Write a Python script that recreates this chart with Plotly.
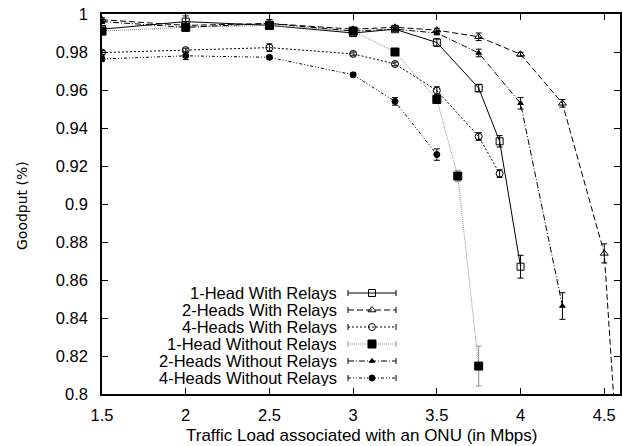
import plotly.graph_objects as go

# ---------------- data ----------------
names = [
    "1-Head With Relays",
    "2-Heads With Relays",
    "4-Heads With Relays",
    "1-Head Without Relays",
    "2-Heads Without Relays",
    "4-Heads Without Relays",
]

x_1h_wr = [1.5, 2, 2.5, 3, 3.25, 3.5, 3.75, 3.875, 4.0]
y_1h_wr = [0.992, 0.996, 0.994, 0.990, 0.992, 0.985, 0.961, 0.933, 0.867]
e_1h_wr = [0.002, 0.003, 0.002, 0.001, 0.001, 0.002, 0.002, 0.003, 0.006]

x_2h_wr = [1.5, 2, 2.5, 3, 3.25, 3.5, 3.75, 4.0, 4.25, 4.5, 4.625]
y_2h_wr = [0.997, 0.994, 0.995, 0.992, 0.993, 0.9915, 0.988, 0.9788, 0.953, 0.874, 0.706]
e_2h_wr = [0.001, 0.002, 0.002, 0.001, 0.001, 0.001, 0.002, 0.001, 0.002, 0.005, 0.005]

x_4h_wr = [1.5, 2, 2.5, 3, 3.25, 3.5, 3.75, 3.875]
y_4h_wr = [0.9797, 0.981, 0.9823, 0.979, 0.9737, 0.9597, 0.9355, 0.916]
e_4h_wr = [0.001, 0.001, 0.002, 0.001, 0.001, 0.002, 0.002, 0.002]

x_1h_nr = [1.5, 2, 2.5, 3, 3.25, 3.5, 3.625, 3.75]
y_1h_nr = [0.991, 0.993, 0.994, 0.991, 0.980, 0.955, 0.9147, 0.8147]
e_1h_nr = [0.002, 0.002, 0.002, 0.001, 0.001, 0.002, 0.003, 0.0105]

x_2h_nr = [1.5, 2, 2.5, 3, 3.25, 3.5, 3.75, 4.0, 4.25]
y_2h_nr = [0.996, 0.993, 0.995, 0.991, 0.992, 0.990, 0.9795, 0.953, 0.8463]
e_2h_nr = [0.001, 0.002, 0.002, 0.001, 0.001, 0.001, 0.002, 0.003, 0.007]

x_4h_nr = [1.5, 2, 2.5, 3, 3.25, 3.5]
y_4h_nr = [0.9763, 0.978, 0.9772, 0.968, 0.954, 0.926]
e_4h_nr = [0.001, 0.002, 0.001, 0.001, 0.002, 0.003]

x_ticks = [1.5, 2, 2.5, 3, 3.5, 4, 4.5]
y_ticks = [0.8, 0.82, 0.84, 0.86, 0.88, 0.9, 0.92, 0.94, 0.96, 0.98, 1.0]

x_title = "Traffic Load associated with an ONU (in Mbps)"
y_title = "Goodput (%)"

# ---------------- styles ----------------
styles = [
    dict(dash="solid", color="black", symbol="square-open", msize=7, mcolor="black"),
    dict(dash="6px,3px", color="black", symbol="triangle-up-open", msize=7, mcolor="black"),
    dict(dash="2px,2px", color="black", symbol="circle-open", msize=7, mcolor="black"),
    dict(dash="1px,1px", color="#8c8c8c", symbol="square", msize=8, mcolor="black"),
    dict(dash="6px,2px,1px,2px", color="black", symbol="triangle-up", msize=5, mcolor="black"),
    dict(dash="3px,2px,1px,2px,1px,2px", color="black", symbol="circle", msize=6, mcolor="black"),
]

series = [
    (x_1h_wr, y_1h_wr, e_1h_wr),
    (x_2h_wr, y_2h_wr, e_2h_wr),
    (x_4h_wr, y_4h_wr, e_4h_wr),
    (x_1h_nr, y_1h_nr, e_1h_nr),
    (x_2h_nr, y_2h_nr, e_2h_nr),
    (x_4h_nr, y_4h_nr, e_4h_nr),
]

FONT = "Liberation Sans, Arial, sans-serif"

fig = go.Figure()
for name, (xs, ys, es), st in zip(names, series, styles):
    fig.add_trace(go.Scatter(
        x=xs, y=ys, name=name, mode="lines+markers",
        line=dict(color=st["color"], width=1, dash=st["dash"]),
        marker=dict(symbol=st["symbol"], size=st["msize"], color=st["mcolor"],
                    line=dict(color=st["mcolor"], width=1)),
        error_y=dict(type="data", array=es, visible=True, color=st["color"],
                     thickness=1, width=3),
        showlegend=False, cliponaxis=True,
    ))

# ---------------- custom gnuplot-like key (text left, sample right) ----------------
KEY_TEXT_X = 0.4556
KEY_X0, KEY_XM, KEY_X1 = 0.4749, 0.5212, 0.5676
KEY_TOP_PX, KEY_STEP_PX, PLOT_H = 101, 17, 380
KEY_CAP = 0.008
for i, (name, st) in enumerate(zip(names, styles)):
    yk = (KEY_TOP_PX - i * KEY_STEP_PX) / PLOT_H
    fig.add_trace(go.Scatter(
        x=[KEY_X0, KEY_X1], y=[yk, yk], xaxis="x2", yaxis="y2", mode="lines",
        line=dict(color=st["color"], width=1, dash=st["dash"]),
        error_y=dict(type="constant", value=KEY_CAP, visible=True, color=st["color"],
                     thickness=1, width=0),
        showlegend=False, hoverinfo="skip",
    ))
    fig.add_trace(go.Scatter(
        x=[KEY_XM], y=[yk], xaxis="x2", yaxis="y2", mode="markers",
        marker=dict(symbol=st["symbol"], size=st["msize"], color=st["mcolor"],
                    line=dict(color=st["mcolor"], width=1)),
        showlegend=False, hoverinfo="skip",
    ))
    fig.add_annotation(x=KEY_TEXT_X, y=yk, xref="x2", yref="y2", text=name,
                       showarrow=False, xanchor="right", yanchor="middle",
                       height=16, valign="middle", borderpad=0,
                       font=dict(family=FONT, size=16.5, color="black"))

# axis titles
fig.add_annotation(x=0.501, y=-0.108, xref="paper", yref="paper", text=x_title,
                   showarrow=False, xanchor="center", yanchor="middle",
                   font=dict(family=FONT, size=17, color="black"))
fig.add_annotation(x=-0.1544, y=0.4947, xref="paper", yref="paper", text=y_title,
                   showarrow=False, xanchor="center", yanchor="middle", textangle=-90,
                   font=dict(family="DejaVu Sans, sans-serif", size=14, color="black"))

axis_common = dict(
    showline=True, linecolor="black", linewidth=1.5, mirror="ticks",
    ticks="inside", ticklen=6, tickwidth=1, tickcolor="black",
    showgrid=False, zeroline=False, automargin=False,
    ticklabeloverflow="allow",
    tickfont=dict(family=FONT, size=16.5, color="black"),
)

fig.update_layout(
    width=623, height=446,
    margin=dict(l=102, r=3, t=14, b=52),
    paper_bgcolor="white", plot_bgcolor="white",
    showlegend=False,
    xaxis=dict(range=[1.5, 4.594], tickvals=x_ticks, ticktext=[f"{v:g}" for v in x_ticks],
               ticklabelstandoff=5, **axis_common),
    yaxis=dict(range=[0.8, 1.0], tickvals=y_ticks, ticktext=[f"{v:g}" for v in y_ticks],
               ticklabelstandoff=9, **axis_common),
    xaxis2=dict(range=[0, 1], overlaying="x", visible=False, fixedrange=True),
    yaxis2=dict(range=[0, 1], overlaying="y", visible=False, fixedrange=True),
)

# remove the browser's default 8px body margin so the figure fills the window
fig.write_html("out.html", config={"displayModeBar": False},
               post_script="document.body.style.margin='0px';")
